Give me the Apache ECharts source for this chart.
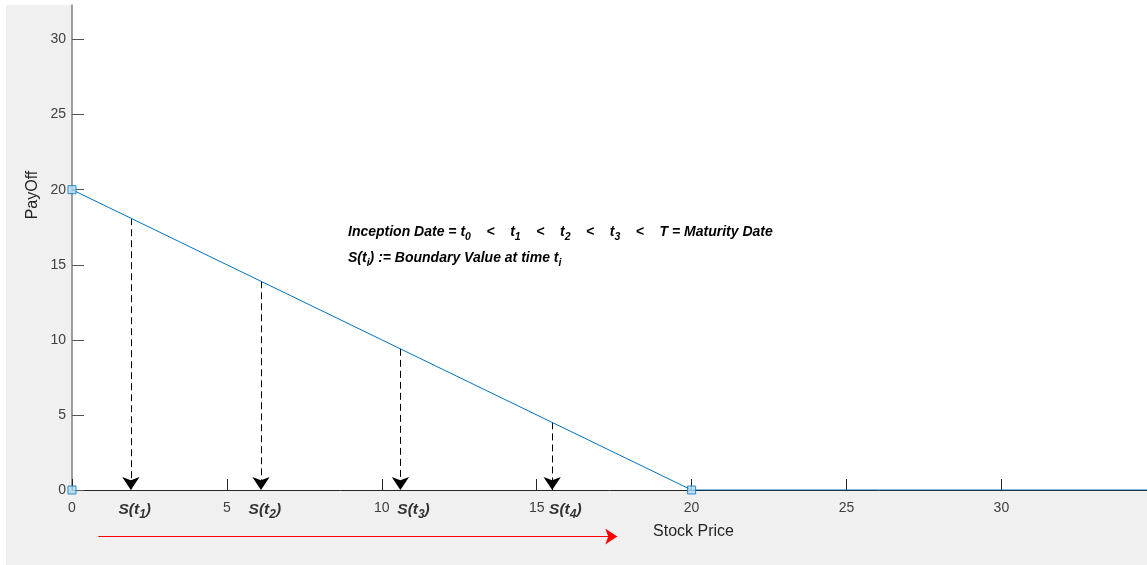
<!DOCTYPE html>
<html>
<head>
<meta charset="utf-8">
<script src="https://cdn.jsdelivr.net/npm/echarts@6/dist/echarts.min.js"></script>
<style>
html,body{margin:0;padding:0;background:#fff;}
#bg{position:absolute;left:6px;top:5px;width:1141px;height:560px;background:#f0f0f0;}
#chart{position:absolute;left:0;top:0;width:1147px;height:565px;}
</style>
</head>
<body>
<div id="bg"></div>
<div id="chart"></div>
<script>
// ---- data ----
const payoffX = [0, 20, 40];
const payoffY = [20, 0, 0];
const markerX = [0, 0, 20];
const markerY = [0, 20, 0];
const boundaryX = [1.9, 6.1, 10.6, 15.5];
const boundaryTop = [18.1, 13.9, 9.4, 4.5];
const boundaryLabels = ['1', '2', '3', '4'];
const boundaryLabelX = [1.5, 5.7, 10.5, 15.4];
const redArrowX = [0.85, 17.6];
const redArrowY = -3.1;
const xRange = [0, 34.7];
const yRange = [0, 32.3];
const xTicks = [0, 5, 10, 15, 20, 25, 30];
const yTicks = [0, 5, 10, 15, 20, 25, 30];

const FONT = "'Liberation Sans', Arial, Helvetica, sans-serif";
const chart = echarts.init(document.getElementById('chart'), null, {renderer: 'canvas'});

const richAnn = {
  b: {fontFamily: FONT, fontSize: 14, fontStyle: 'italic', fontWeight: 'bold', color: '#000', lineHeight: 18, verticalAlign: 'middle'},
  s: {fontFamily: FONT, fontSize: 10.5, fontStyle: 'italic', fontWeight: 'bold', color: '#000', lineHeight: 10, padding: [10, 0, 0, 0], verticalAlign: 'middle'}
};
const richLab = {
  b: {fontFamily: FONT, fontSize: 15.5, fontStyle: 'italic', fontWeight: 'bold', color: '#000', lineHeight: 20, verticalAlign: 'middle'},
  s: {fontFamily: FONT, fontSize: 12, fontStyle: 'italic', fontWeight: 'bold', color: '#000', lineHeight: 12, padding: [10, 0, 0, 0], verticalAlign: 'middle'}
};

const option = {
  animation: false,
  backgroundColor: 'transparent',
  grid: {left: 72, right: 0, top: 5, bottom: 75, show: true, backgroundColor: '#fff', borderWidth: 0, containLabel: false},
  xAxis: {
    type: 'value', min: xRange[0], max: xRange[1], interval: 5, z: 0,
    name: 'Stock Price', nameLocation: 'middle', nameGap: 34,
    nameTextStyle: {fontFamily: FONT, fontSize: 16, color: '#262626', padding: [0, 0, 0, 168]},
    axisLine: {onZero: true, lineStyle: {color: '#262626', width: 1}},
    axisTick: {inside: true, length: 11, lineStyle: {color: '#262626'}, customValues: xTicks},
    axisLabel: {margin: 11, fontFamily: FONT, fontSize: 14, color: '#404040', customValues: xTicks},
    splitLine: {show: false}
  },
  yAxis: {
    type: 'value', min: yRange[0], max: yRange[1], interval: 5, z: 0,
    axisLine: {lineStyle: {color: '#7f7f7f', width: 1.5}},
    axisTick: {inside: true, length: 12, lineStyle: {color: '#555'}, customValues: yTicks},
    axisLabel: {margin: 6, fontFamily: FONT, fontSize: 14, color: '#404040', customValues: yTicks},
    splitLine: {show: false}
  },
  series: [
    {
      type: 'line', data: payoffX.map((x, i) => [x, payoffY[i]]),
      showSymbol: false, symbol: 'none',
      lineStyle: {color: '#0072bd', width: 1}, z: 5
    },
    {
      type: 'scatter', data: markerX.map((x, i) => [x, markerY[i]]),
      symbol: 'rect', symbolSize: 8, clip: false,
      itemStyle: {color: '#b0dbf7', borderColor: '#0072bd', borderWidth: 1}, z: 6
    },
    {
      type: 'lines', coordinateSystem: 'cartesian2d', clip: false,
      data: boundaryX.map((x, i) => ({coords: [[x, boundaryTop[i]], [x, 0]]})),
      symbol: ['none', 'arrow'], symbolSize: 13,
      itemStyle: {color: '#000'},
      lineStyle: {color: '#000', width: 1, type: [7, 4], opacity: 1, curveness: 0}, z: 4
    },
    {
      type: 'lines', coordinateSystem: 'cartesian2d', clip: false,
      color: '#ff0000',
      data: [{coords: [[redArrowX[0], redArrowY], [redArrowX[1], redArrowY]], lineStyle: {color: '#ff0000'}}],
      symbol: ['none', 'arrow'], symbolSize: 12,
      itemStyle: {color: '#ff0000'},
      lineStyle: {color: '#ff0000', width: 1.2, type: 'solid', opacity: 1, curveness: 0}, z: 4
    },
    {
      type: 'scatter', clip: false, symbolSize: 0, silent: true,
      data: boundaryLabelX.map((x, i) => ({value: [x, 0], sub: boundaryLabels[i]})),
      label: {
        show: true, position: [0, 20], align: 'left', verticalAlign: 'middle',
        formatter: p => '{b|S(t}{s|' + p.data.sub + '}{b|)}',
        rich: richLab
      }
    }
  ],
  graphic: [
    {
      type: 'text', x: 33, y: 195, rotation: Math.PI / 2, z: 10,
      style: {text: 'PayOff', fontFamily: FONT, fontSize: 16, fill: '#262626', align: 'center', verticalAlign: 'middle'}
    },
    {
      type: 'text', left: 348, top: 222, z: 10,
      style: {
        text: '{b|Inception Date = t}{s|0}{b|    <    t}{s|1}{b|    <    t}{s|2}{b|    <    t}{s|3}{b|    <    T = Maturity Date}',
        rich: richAnn
      }
    },
    {
      type: 'text', left: 348, top: 248, z: 10,
      style: {
        text: '{b|S(t}{s|i}{b|) := Boundary Value at time t}{s|i}',
        rich: richAnn
      }
    }
  ]
};
chart.setOption(option);
</script>
</body>
</html>
